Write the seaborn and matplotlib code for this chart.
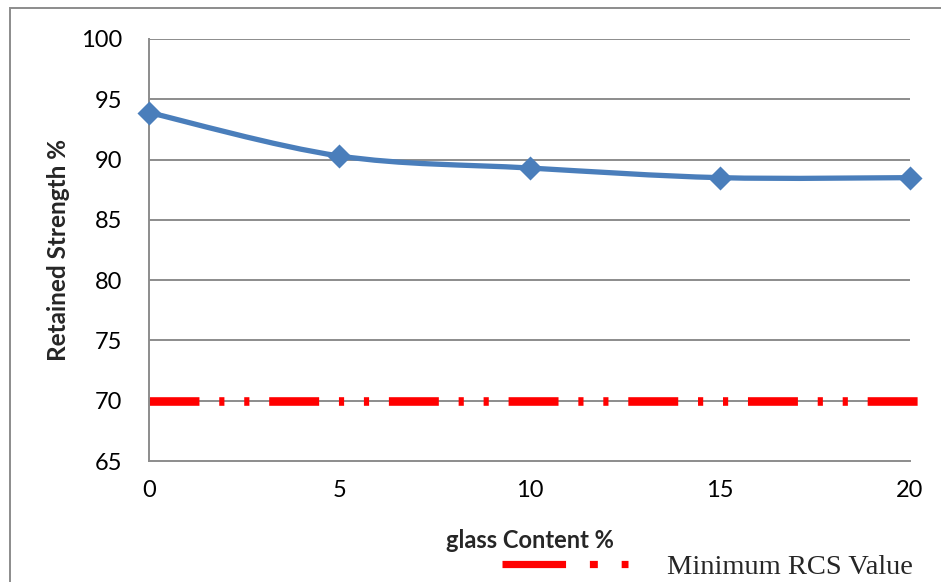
import matplotlib
matplotlib.use("Agg")
import matplotlib.pyplot as plt
from matplotlib.path import Path
from matplotlib.patches import PathPatch, Rectangle
from matplotlib.lines import Line2D
import numpy as np
import pandas as pd
import seaborn as sns

# Data
glass_content = [0, 5, 10, 15, 20]
retained_strength = [93.9, 90.3, 89.3, 88.5, 88.5]
min_rcs_value = 70
y_ticks = [65, 70, 75, 80, 85, 90, 95, 100]
x_ticks = [0, 5, 10, 15, 20]

df = pd.DataFrame({"glass": glass_content, "strength": retained_strength})

sns.set_theme(style="white")
plt.rcParams["font.family"] = ["Lato", "DejaVu Sans"]

W, H = 941, 582
fig = plt.figure(figsize=(W / 100, H / 100), dpi=100)
ax = fig.add_axes([149 / W, 1 - 461 / H, (910 - 149) / W, (461 - 39) / H])

blue = "#4A7EBB"
grid_c = "#8C8C8C"

# Horizontal gridlines
for yv in y_ticks[1:]:
    ax.axhline(yv, color=grid_c, lw=1.4, zorder=0)

# Smooth curve through the points (cardinal spline as cubic Bezier segments)
pts = np.column_stack([glass_content, retained_strength]).astype(float)
ext = np.vstack([pts[0], pts, pts[-1]])
verts = [tuple(pts[0])]
codes = [Path.MOVETO]
for i in range(len(pts) - 1):
    p0, p1, p2, p3 = ext[i], ext[i + 1], ext[i + 2], ext[i + 3]
    c1 = p1 + (p2 - p0) / 6.0
    c2 = p2 - (p3 - p1) / 6.0
    verts += [tuple(c1), tuple(c2), tuple(p2)]
    codes += [Path.CURVE4] * 3
ax.add_patch(PathPatch(Path(verts, codes), facecolor="none", edgecolor=blue,
                       lw=3.8, capstyle="round", joinstyle="round", zorder=3))

# Markers
sns.scatterplot(data=df, x="glass", y="strength", marker="D", s=150,
                color=blue, edgecolor=blue, linewidth=0, ax=ax, zorder=4,
                clip_on=False, legend=False)

# Minimum RCS threshold line
rcs_lw = 6.2
rcs_style = (0, (5.8, 2.3, 0.6, 2.3, 0.6, 2.3))
ax.plot([0, 20.2], [min_rcs_value, min_rcs_value], color="#FF0000", lw=rcs_lw,
        linestyle=rcs_style, dash_capstyle="butt", clip_on=False, zorder=2)

ax.set_xlim(0, 20)
ax.set_ylim(65, 100)
ax.set_xticks(x_ticks)
ax.set_yticks(y_ticks)
ax.tick_params(axis="both", labelsize=17, length=0, colors="black")
ax.tick_params(axis="x", pad=14)
ax.tick_params(axis="y", pad=19)
for s in ["top", "right"]:
    ax.spines[s].set_visible(False)
for s in ["left", "bottom"]:
    ax.spines[s].set_color(grid_c)
    ax.spines[s].set_linewidth(1.4)

ax.set_xlabel("glass Content %", fontsize=17, fontweight="bold", labelpad=20)
ax.set_ylabel("Retained Strength %", fontsize=17.5, fontweight="bold", labelpad=8)

# Legend beneath the chart
handle = Line2D([], [], color="#FF0000", lw=5.2,
                linestyle=(0, (8.8, 3.3, 1.1, 3.3, 1.1, 3.3)), dash_capstyle="butt")
fig.legend([handle], ["Minimum RCS Value"], loc="center left",
           bbox_to_anchor=(502 / W, 1 - 567 / H), frameon=False,
           prop={"family": ["Liberation Serif", "DejaVu Serif"], "size": 20.5},
           handlelength=4.42, handletextpad=1.38, borderpad=0, borderaxespad=0)

# Outer chart-area border
fig.patches.append(Rectangle((10 / W, -0.05), 1.05, 1 - 8 / H + 0.05,
                             transform=fig.transFigure, fill=False,
                             edgecolor=grid_c, lw=1.4))

fig.savefig("out.png", dpi=100)
